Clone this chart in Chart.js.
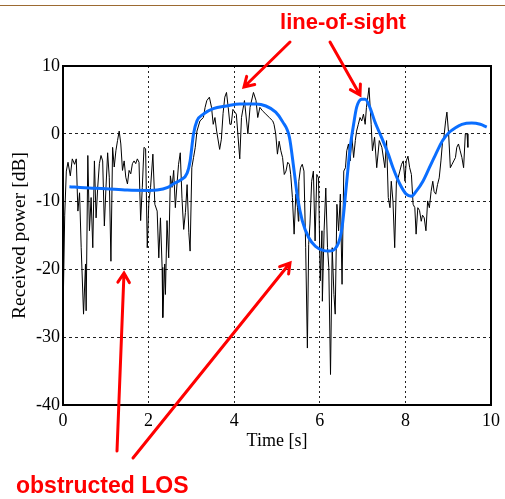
<!DOCTYPE html>
<html>
<head>
<meta charset="utf-8">
<script src="https://cdn.jsdelivr.net/npm/chart.js@4.4.0/dist/chart.umd.min.js"></script>
<style>
  body { margin:0; background:#fff; }
  #wrap { width:505px; height:499px; }
</style>
</head>
<body>
<div id="wrap"><canvas id="c" width="505" height="499"></canvas></div>
<script>
// measured received power (black, noisy)
var rawT = [0.0,0.04,0.078,0.117,0.171,0.217,0.271,0.31,0.348,0.387,0.425,0.48,0.526,0.541,0.58,0.618,0.657,0.696,0.734,0.773,0.811,0.85,0.888,0.927,0.966,1.004,1.043,1.081,1.12,1.159,1.197,1.236,1.274,1.313,1.351,1.39,1.429,1.467,1.506,1.544,1.583,1.622,1.66,1.699,1.737,1.776,1.814,1.853,1.892,1.93,1.969,2.007,2.046,2.1,2.146,2.2,2.238,2.277,2.316,2.331,2.377,2.393,2.43,2.47,2.509,2.547,2.586,2.625,2.66,2.7,2.74,2.78,2.82,2.86,2.9,2.94,2.97,3.01,3.05,3.09,3.13,3.2,3.28,3.32,3.36,3.42,3.47,3.51,3.55,3.59,3.66,3.7,3.74,3.78,3.82,3.86,3.9,3.93,3.97,4.05,4.13,4.17,4.24,4.32,4.37,4.45,4.51,4.55,4.6,4.66,4.74,4.82,4.9,4.93,4.97,5.01,5.05,5.09,5.13,5.17,5.21,5.25,5.29,5.32,5.36,5.4,5.44,5.48,5.5,5.51,5.55,5.59,5.63,5.67,5.71,5.74,5.77,5.81,5.85,5.89,5.93,5.97,6.01,6.05,6.06,6.1,6.14,6.18,6.21,6.25,6.29,6.33,6.36,6.4,6.44,6.48,6.52,6.56,6.6,6.63,6.67,6.71,6.75,6.79,6.83,6.86,6.9,6.94,6.98,7.02,7.06,7.09,7.15,7.2,7.23,7.28,7.33,7.39,7.45,7.52,7.56,7.6,7.64,7.67,7.71,7.75,7.79,7.83,7.87,7.91,7.95,7.99,8.02,8.06,8.1,8.14,8.18,8.22,8.25,8.29,8.33,8.37,8.4,8.44,8.48,8.52,8.56,8.6,8.64,8.67,8.71,8.75,8.79,8.83,8.87,8.9,8.94,8.97,9.01,9.05,9.09,9.13,9.17,9.2,9.24,9.28,9.32,9.36,9.4,9.44,9.46];
var rawP = [-27,-12,-5.5,-4.2,-6.2,-3.7,-4.5,-3.7,-11.4,-8.7,-16.8,-26.6,-19.2,-26.1,-3.2,-14.3,-9.4,-16.8,-4.0,-12.4,-7.9,-4.4,-3.2,-4.0,-13.6,-7.9,-2.8,-6.4,-18.8,-2.0,-4.9,-2.5,-1.0,0.4,-1.5,-5.4,-4.0,-6.4,-7.4,-5.4,-5.9,-4.4,-4.0,-4.4,-3.7,-4.2,-12.8,-7.9,-2.0,-2.2,-16.8,-9.9,-7.9,-3.0,-10.4,-11.4,-18.3,-12.4,-19.7,-27.1,-19.2,-23.7,-12.8,-18.3,-6.2,-7.9,-5.4,-10.9,-7.7,-4.5,-2.8,-9.5,-14.1,-11.6,-7.5,-14.6,-17.3,-5.0,-3.5,-2.0,0.4,1.9,2.4,3.9,4.9,5.4,3.9,1.4,2.4,0.4,-2.3,-0.8,3.0,5.4,6.1,3.9,1.4,1.4,3.6,2.9,-3.7,2.4,4.9,0.0,3.9,6.1,4.9,2.4,3.9,3.4,2.9,2.4,1.9,1.4,0.0,-3.0,-1.1,-2.5,-3.5,-6.0,-5.5,-4.2,-4.5,-6.0,-9.4,-14.8,-8.9,-10.9,-12.9,-7.0,-5.0,-4.5,-5.5,-16.8,-31.6,-16.3,-13.3,-7.0,-5.5,-15.8,-6.0,-6.5,-21.7,-14.3,-24.7,-14.3,-8.0,-16.8,-19.7,-35.5,-16.8,-23.7,-26.6,-10.4,-14.3,-8.9,-22.2,-5.5,-5.0,-2.5,-1.5,-4.0,-0.5,-3.5,-1.0,0.4,1.4,2.4,1.9,2.9,1.4,3.9,6.8,1.4,-2.5,-0.5,-5.0,-1.0,-2.0,-5.0,-1.0,-9.4,-10.9,-7.0,-10.0,-16.8,-7.0,-6.5,-5.5,-4.5,-4.0,-7.0,-4.0,-3.3,-5.0,-6.0,-10.4,-10.9,-14.8,-10.9,-11.3,-12.9,-12.0,-12.4,-14.3,-9.9,-10.9,-8.5,-7.0,-8.5,-8.9,-7.5,-6.5,-4.0,-1.0,-0.5,1.9,3.2,0.0,-5.0,-4.5,-4.0,-3.5,-2.0,-1.5,-2.5,-3.5,-5.0,0.0,0.0,-2.0];

// smoothed (blue) local mean
var meanT = [0.15,0.5,1.0,1.5,2.0,2.2,2.45,2.6,2.75,2.9,2.97,3.05,3.13,3.28,3.51,3.82,4.13,4.51,4.74,4.97,5.13,5.29,5.4,5.48,5.59,5.74,5.9,6.21,6.4,6.52,6.63,6.71,6.79,6.86,6.98,7.06,7.17,7.28,7.44,7.6,7.71,7.87,8.02,8.14,8.25,8.41,8.56,8.71,8.87,9.02,9.17,9.32,9.55,9.75,9.9];
var meanP = [-7.8,-7.95,-8.1,-8.3,-8.35,-8.3,-7.9,-7.3,-6.8,-5.8,-4.0,0.0,1.9,2.9,3.7,4.1,4.4,4.4,4.1,3.2,1.8,-0.5,-5.5,-9.4,-12.8,-15.3,-16.6,-17.3,-16.6,-13.8,-7.0,-2.0,1.4,3.9,5.1,5.1,3.9,1.9,-0.5,-3.0,-5.0,-7.4,-8.9,-9.2,-8.5,-7.0,-5.0,-3.0,-1.0,0.2,0.9,1.4,1.6,1.4,1.0];

var xTicks = [0,2,4,6,8,10];
var yTicks = [-40,-30,-20,-10,0,10];

function pts(t, p){
  var out = [];
  for (var i = 0; i < t.length; i++) out.push({x:t[i], y:p[i]});
  return out;
}

function arrow(ctx, x1, y1, x2, y2){
  var a = Math.atan2(y2 - y1, x2 - x1), L = 11, w = 0.55;
  ctx.beginPath();
  ctx.moveTo(x1, y1); ctx.lineTo(x2, y2);
  ctx.moveTo(x2 - L*Math.cos(a - w), y2 - L*Math.sin(a - w));
  ctx.lineTo(x2, y2);
  ctx.lineTo(x2 - L*Math.cos(a + w), y2 - L*Math.sin(a + w));
  ctx.stroke();
}

var decor = {
  id: 'decor',
  beforeDraw: function(chart){
    var ctx = chart.ctx;
    ctx.save();
    ctx.fillStyle = '#fff';
    ctx.fillRect(0, 0, chart.width, chart.height);
    ctx.restore();
  },
  afterDraw: function(chart){
    var ctx = chart.ctx, a = chart.chartArea;
    ctx.save();
    // plot frame
    ctx.strokeStyle = '#000';
    ctx.lineWidth = 2;
    ctx.strokeRect(a.left, a.top, a.right - a.left, a.bottom - a.top);
    // slide rule at the top
    ctx.strokeStyle = '#9c6a32';
    ctx.lineWidth = 1;
    ctx.beginPath(); ctx.moveTo(0, 5.5); ctx.lineTo(chart.width, 5.5); ctx.stroke();
    // annotations
    ctx.fillStyle = '#ff0000';
    ctx.font = 'bold 22px "Liberation Sans", Arial, sans-serif';
    ctx.textAlign = 'center';
    ctx.textBaseline = 'alphabetic';
    ctx.fillText('line-of-sight', 343, 29);
    ctx.textAlign = 'left';
    ctx.font = 'bold 23px "Liberation Sans", Arial, sans-serif';
    ctx.fillText('obstructed LOS', 16, 493);
    ctx.strokeStyle = '#ff0000';
    ctx.lineWidth = 3;
    ctx.lineCap = 'round';
    arrow(ctx, 290, 42, 244, 87);
    arrow(ctx, 330, 42, 360, 95);
    arrow(ctx, 117, 451, 124, 273);
    arrow(ctx, 133, 458, 290, 263);
    ctx.restore();
  }
};

var serif = 'Liberation Serif';

new Chart(document.getElementById('c'), {
  type: 'scatter',
  data: {
    datasets: [
      {
        label: 'mean',
        data: pts(meanT, meanP),
        showLine: true,
        borderColor: '#0a6eff',
        borderWidth: 3,
        pointRadius: 0,
        cubicInterpolationMode: 'monotone',
        fill: false
      },
      {
        label: 'raw',
        data: pts(rawT, rawP),
        showLine: true,
        borderColor: '#000',
        borderWidth: 1,
        pointRadius: 0,
        tension: 0,
        fill: false
      }
    ]
  },
  options: {
    responsive: false,
    animation: false,
    layout: { padding: { left: 0, right: 10, top: 66, bottom: 0 } },
    plugins: { legend: { display: false }, tooltip: { enabled: false } },
    scales: {
      x: {
        type: 'linear', min: 0, max: 10,
        afterBuildTicks: function(s){ s.ticks = xTicks.map(function(v){ return {value:v}; }); },
        afterFit: function(s){ s.height = 94; },
        ticks: { color: '#000', font: { family: serif, size: 18 }, padding: 5, maxRotation: 0 },
        grid: { color: '#222', lineWidth: 1, drawTicks: false },
        border: { display: false, dash: [2, 3] },
        title: { display: true, text: 'Time [s]', color: '#000', font: { family: serif, size: 18 }, padding: { top: 0, bottom: 47 } }
      },
      y: {
        type: 'linear', min: -40, max: 10,
        afterBuildTicks: function(s){ s.ticks = yTicks.map(function(v){ return {value:v}; }); },
        afterFit: function(s){ s.width = 63; },
        ticks: { color: '#000', font: { family: serif, size: 18 }, padding: 3 },
        grid: { color: '#222', lineWidth: 1, drawTicks: false },
        border: { display: false, dash: [3, 3] },
        title: { display: true, text: 'Received power [dB]', color: '#000', font: { family: serif, size: 19.5 }, padding: { top: 8, bottom: 0 } }
      }
    }
  },
  plugins: [decor]
});
</script>
</body>
</html>
